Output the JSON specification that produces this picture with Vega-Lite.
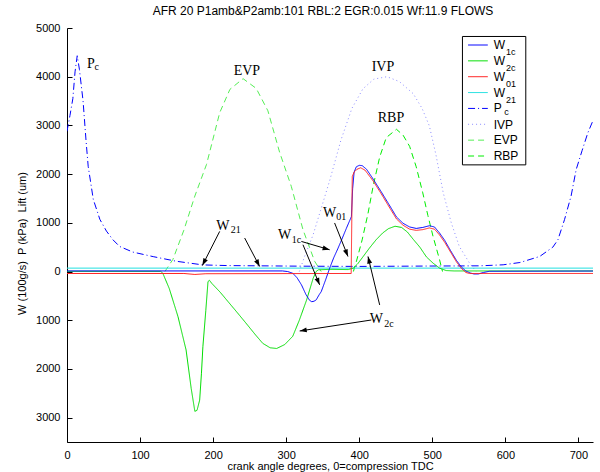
{
"$schema": "https://vega.github.io/schema/vega-lite/v6.json",
"width": 526, "height": 414,
"autosize": {"type": "none"},
"padding": {"left": 67, "top": 28, "right": 7, "bottom": 30},
"background": "white",
"title": {"text": "AFR 20 P1amb&P2amb:101 RBL:2 EGR:0.015 Wf:11.9 FLOWS", "font": "Liberation Sans", "fontSize": 12, "fontWeight": "normal", "color": "black", "anchor": "middle", "offset": 4, "dx": -7},
"config": {
  "view": {"stroke": null},
  "axis": {"domainColor": "black", "tickColor": "black", "labelColor": "black", "titleColor": "black", "labelFont": "Liberation Sans", "titleFont": "Liberation Sans", "labelFontSize": 11, "titleFontSize": 11, "titleFontWeight": "normal", "grid": false, "tickSize": -5, "domainWidth": 1, "tickWidth": 1, "labelFlush": false, "labelOverlap": false}
},
"datasets": {
"curves": [
{"s":"IVP","x":318,"y":0},{"s":"IVP","x":325,"y":300},{"s":"IVP","x":337,"y":760},{"s":"IVP","x":347,"y":1250},{"s":"IVP","x":360,"y":1890},{"s":"IVP","x":375,"y":2700},{"s":"IVP","x":390,"y":3350},{"s":"IVP","x":405,"y":3750},{"s":"IVP","x":420,"y":3950},{"s":"IVP","x":438,"y":4000},{"s":"IVP","x":455,"y":3900},{"s":"IVP","x":474,"y":3650},{"s":"IVP","x":486,"y":3350},{"s":"IVP","x":496,"y":2990},{"s":"IVP","x":505,"y":2400},{"s":"IVP","x":515,"y":1615},{"s":"IVP","x":526,"y":1000},{"s":"IVP","x":537,"y":515},{"s":"IVP","x":551,"y":173},{"s":"IVP","x":560,"y":0},
{"s":"EVP","x":134,"y":0},{"s":"EVP","x":145,"y":250},{"s":"EVP","x":160,"y":850},{"s":"EVP","x":175,"y":1550},{"s":"EVP","x":191,"y":2200},{"s":"EVP","x":209,"y":3260},{"s":"EVP","x":223,"y":3740},{"s":"EVP","x":241,"y":3960},{"s":"EVP","x":259,"y":3760},{"s":"EVP","x":275,"y":3300},{"s":"EVP","x":291,"y":2450},{"s":"EVP","x":307,"y":1750},{"s":"EVP","x":323,"y":860},{"s":"EVP","x":339,"y":210},{"s":"EVP","x":348,"y":0},
{"s":"RBP","x":392,"y":0},{"s":"RBP","x":396,"y":200},{"s":"RBP","x":404,"y":650},{"s":"RBP","x":412,"y":1190},{"s":"RBP","x":419,"y":1750},{"s":"RBP","x":428,"y":2350},{"s":"RBP","x":437,"y":2750},{"s":"RBP","x":451,"y":2920},{"s":"RBP","x":460,"y":2800},{"s":"RBP","x":469,"y":2570},{"s":"RBP","x":478,"y":2150},{"s":"RBP","x":487,"y":1615},{"s":"RBP","x":494,"y":1150},{"s":"RBP","x":501,"y":725},{"s":"RBP","x":510,"y":240},{"s":"RBP","x":514,"y":0},
{"s":"Pc","x":0,"y":2880},{"s":"Pc","x":4,"y":3200},{"s":"Pc","x":8,"y":3550},{"s":"Pc","x":11,"y":4100},{"s":"Pc","x":14,"y":4430},{"s":"Pc","x":17,"y":4150},{"s":"Pc","x":22,"y":3500},{"s":"Pc","x":26,"y":2700},{"s":"Pc","x":29,"y":2160},{"s":"Pc","x":36,"y":1480},{"s":"Pc","x":45,"y":1070},{"s":"Pc","x":54,"y":830},{"s":"Pc","x":63,"y":650},{"s":"Pc","x":72,"y":515},{"s":"Pc","x":90,"y":400},{"s":"Pc","x":118,"y":306},{"s":"Pc","x":150,"y":210},{"s":"Pc","x":186,"y":136},{"s":"Pc","x":220,"y":122},{"s":"Pc","x":264,"y":117},{"s":"Pc","x":320,"y":110},{"s":"Pc","x":400,"y":105},{"s":"Pc","x":487,"y":112},{"s":"Pc","x":565,"y":117},{"s":"Pc","x":597,"y":138},{"s":"Pc","x":620,"y":185},{"s":"Pc","x":647,"y":309},{"s":"Pc","x":665,"y":500},{"s":"Pc","x":672,"y":653},{"s":"Pc","x":681,"y":1065},{"s":"Pc","x":690,"y":1550},{"s":"Pc","x":697,"y":2095},{"s":"Pc","x":705,"y":2480},{"s":"Pc","x":713,"y":2850},{"s":"Pc","x":720,"y":3100},
{"s":"W21","x":0,"y":70},{"s":"W21","x":360,"y":70},{"s":"W21","x":720,"y":70},
{"s":"W2c","x":0,"y":5},{"s":"W2c","x":128,"y":5},{"s":"W2c","x":131,"y":-30},{"s":"W2c","x":140,"y":-350},{"s":"W2c","x":152,"y":-930},{"s":"W2c","x":163,"y":-1610},{"s":"W2c","x":170,"y":-2400},{"s":"W2c","x":175,"y":-2870},{"s":"W2c","x":178,"y":-2850},{"s":"W2c","x":181.6,"y":-2640},{"s":"W2c","x":184,"y":-2100},{"s":"W2c","x":186,"y":-1545},{"s":"W2c","x":190,"y":-800},{"s":"W2c","x":193,"y":-206},{"s":"W2c","x":195,"y":-180},{"s":"W2c","x":198,"y":-240},{"s":"W2c","x":210,"y":-430},{"s":"W2c","x":220,"y":-610},{"s":"W2c","x":232,"y":-824},{"s":"W2c","x":245,"y":-1060},{"s":"W2c","x":258,"y":-1300},{"s":"W2c","x":268,"y":-1475},{"s":"W2c","x":278,"y":-1565},{"s":"W2c","x":287,"y":-1580},{"s":"W2c","x":298,"y":-1500},{"s":"W2c","x":309,"y":-1330},{"s":"W2c","x":318,"y":-1000},{"s":"W2c","x":328,"y":-583},{"s":"W2c","x":337,"y":-136},{"s":"W2c","x":341,"y":0},{"s":"W2c","x":344,"y":35},{"s":"W2c","x":360,"y":45},{"s":"W2c","x":385,"y":40},{"s":"W2c","x":392,"y":70},{"s":"W2c","x":398,"y":160},{"s":"W2c","x":405,"y":300},{"s":"W2c","x":414,"y":482},{"s":"W2c","x":423,"y":650},{"s":"W2c","x":432,"y":790},{"s":"W2c","x":440,"y":880},{"s":"W2c","x":449,"y":930},{"s":"W2c","x":458,"y":905},{"s":"W2c","x":466,"y":810},{"s":"W2c","x":474,"y":660},{"s":"W2c","x":483,"y":500},{"s":"W2c","x":492,"y":300},{"s":"W2c","x":501,"y":173},{"s":"W2c","x":510,"y":70},{"s":"W2c","x":519,"y":20},{"s":"W2c","x":530,"y":12},{"s":"W2c","x":720,"y":12},
{"s":"W1c","x":0,"y":12},{"s":"W1c","x":295,"y":12},{"s":"W1c","x":302,"y":0},{"s":"W1c","x":309,"y":-35},{"s":"W1c","x":315,"y":-130},{"s":"W1c","x":321,"y":-275},{"s":"W1c","x":327,"y":-470},{"s":"W1c","x":332,"y":-590},{"s":"W1c","x":335,"y":-620},{"s":"W1c","x":338,"y":-610},{"s":"W1c","x":341,"y":-585},{"s":"W1c","x":345,"y":-480},{"s":"W1c","x":348,"y":-413},{"s":"W1c","x":354,"y":-170},{"s":"W1c","x":359.5,"y":68},{"s":"W1c","x":365,"y":280},{"s":"W1c","x":371,"y":478},{"s":"W1c","x":377,"y":690},{"s":"W1c","x":382.5,"y":890},{"s":"W1c","x":389.3,"y":1128},{"s":"W1c","x":391,"y":1700},{"s":"W1c","x":393,"y":2040},{"s":"W1c","x":396,"y":2150},{"s":"W1c","x":400,"y":2180},{"s":"W1c","x":404,"y":2175},{"s":"W1c","x":410,"y":2100},{"s":"W1c","x":419,"y":1900},{"s":"W1c","x":430,"y":1640},{"s":"W1c","x":442,"y":1345},{"s":"W1c","x":451,"y":1120},{"s":"W1c","x":460,"y":990},{"s":"W1c","x":469,"y":915},{"s":"W1c","x":478,"y":885},{"s":"W1c","x":487,"y":905},{"s":"W1c","x":496,"y":940},{"s":"W1c","x":503,"y":915},{"s":"W1c","x":510,"y":790},{"s":"W1c","x":517,"y":640},{"s":"W1c","x":525,"y":430},{"s":"W1c","x":533,"y":230},{"s":"W1c","x":540,"y":90},{"s":"W1c","x":546,"y":10},{"s":"W1c","x":552,"y":-30},{"s":"W1c","x":557,"y":-50},{"s":"W1c","x":563,"y":-50},{"s":"W1c","x":570,"y":-20},{"s":"W1c","x":578,"y":5},{"s":"W1c","x":720,"y":10},
{"s":"W01","x":0,"y":-40},{"s":"W01","x":160,"y":-40},{"s":"W01","x":175,"y":-60},{"s":"W01","x":190,"y":-45},{"s":"W01","x":389,"y":-40},{"s":"W01","x":390.5,"y":1950},{"s":"W01","x":393,"y":2040},{"s":"W01","x":397,"y":2100},{"s":"W01","x":402,"y":2130},{"s":"W01","x":408,"y":2080},{"s":"W01","x":419,"y":1860},{"s":"W01","x":430,"y":1600},{"s":"W01","x":442,"y":1300},{"s":"W01","x":451,"y":1080},{"s":"W01","x":460,"y":950},{"s":"W01","x":469,"y":870},{"s":"W01","x":478,"y":845},{"s":"W01","x":487,"y":860},{"s":"W01","x":496,"y":895},{"s":"W01","x":503,"y":870},{"s":"W01","x":510,"y":750},{"s":"W01","x":517,"y":600},{"s":"W01","x":525,"y":400},{"s":"W01","x":533,"y":200},{"s":"W01","x":540,"y":60},{"s":"W01","x":546,"y":-20},{"s":"W01","x":551,"y":-40},{"s":"W01","x":720,"y":-40}
],
"ann": [
{"t":"P","k":"main","x":27.4,"y":4177},{"t":"c","k":"sub","x":37.5,"y":4132},
{"t":"EVP","k":"main","x":228.2,"y":4039},
{"t":"IVP","k":"main","x":417,"y":4107},
{"t":"RBP","k":"main","x":425.4,"y":3080},
{"t":"W","k":"main","x":204.4,"y":855},{"t":"21","k":"sub","x":224.3,"y":787},
{"t":"W","k":"main","x":288.8,"y":660},{"t":"1c","k":"sub","x":307.5,"y":588},
{"t":"W","k":"main","x":350.5,"y":1128},{"t":"01","k":"sub","x":368.5,"y":1060},
{"t":"W","k":"main","x":414.4,"y":-1062},{"t":"2c","k":"sub","x":434.2,"y":-1132}
],
"arrows": [
{"id":"a1","x1":209,"y1":824,"x2":185.3,"y2":124},
{"id":"a2","x1":243.2,"y1":688,"x2":263.7,"y2":103},
{"id":"a3","x1":320.8,"y1":618,"x2":359.5,"y2":447},
{"id":"a4","x1":323,"y1":550,"x2":345.8,"y2":-274},
{"id":"a5","x1":366.3,"y1":997,"x2":384.6,"y2":309},
{"id":"a6","x1":428,"y1":-686,"x2":412,"y2":309},
{"id":"a7","x1":416.6,"y1":-995,"x2":318.5,"y2":-1221}
],
"leg": [
{"s":"W1c","m":"W","sub":"1c"},{"s":"W2c","m":"W","sub":"2c"},{"s":"W01","m":"W","sub":"01"},{"s":"W21","m":"W","sub":"21"},{"s":"Pc","m":"P","sub":"c"},{"s":"IVP","m":"IVP","sub":""},{"s":"EVP","m":"EVP","sub":""},{"s":"RBP","m":"RBP","sub":""}
]
},
"layer": [
{
"layer": [
{"data": {"name": "curves"}, "mark": {"type": "line", "clip": true},
 "encoding": {
  "x": {"field": "x", "type": "quantitative", "scale": {"domain": [0, 720], "nice": false, "zero": false},
        "axis": {"values": [0,100,200,300,400,500,600,700], "title": "crank angle degrees, 0=compression TDC", "labelPadding": 12, "titlePadding": 0}},
  "y": {"field": "y", "type": "quantitative", "scale": {"domain": [-3500, 5000], "nice": false, "zero": false},
        "axis": {"values": [-3000,-2000,-1000,0,1000,2000,3000,4000,5000], "labelExpr": "format(abs(datum.value), 'd')", "title": "W (100g/s)\u00a0 P (kPa)\u00a0 Lift (um)", "labelPadding": 12, "titlePadding": 8, "titleY": 215}},
  "color": {"field": "s", "type": "nominal", "legend": null, "scale": {"domain": ["W1c","W2c","W01","W21","Pc","IVP","EVP","RBP"], "range": ["#0000ff","#00dd00","#ff2020","#22e0e0","#0000ff","#8c8cff","#55ee55","#00ee00"]}},
  "strokeDash": {"field": "s", "type": "nominal", "legend": null, "scale": {"domain": ["W1c","W2c","W01","W21","Pc","IVP","EVP","RBP"], "range": [[1,0],[1,0],[1,0],[1,0],[7,3,1,3],[1,3],[6,4],[6,4]]}},
  "strokeWidth": {"field": "s", "type": "nominal", "legend": null, "scale": {"domain": ["W1c","W2c","W01","W21","Pc","IVP","EVP","RBP"], "range": [1,1,1.3,1,1,1,1,1]}}
 }},
{"data": {"values": [{}]}, "mark": {"type": "rect", "fill": "white", "stroke": "black", "strokeWidth": 1},
 "encoding": {"x": {"datum": 541.3}, "x2": {"datum": 628}, "y": {"datum": 4826}, "y2": {"datum": 2190}}},
{"data": {"name": "arrows"}, "mark": {"type": "rule", "color": "black", "strokeWidth": 1},
 "encoding": {"x": {"field": "x1", "type": "quantitative"}, "y": {"field": "y1", "type": "quantitative"}, "x2": {"field": "x2"}, "y2": {"field": "y2"}}},
{"data": {"name": "arrows"}, "mark": {"type": "point", "filled": true, "color": "black", "opacity": 1, "size": 200, "shape": "M0,0L-0.35,1L0.35,1Z"},
 "encoding": {"x": {"field": "x2", "type": "quantitative"}, "y": {"field": "y2", "type": "quantitative"},
  "angle": {"field": "id", "type": "nominal", "legend": null, "scale": {"type": "ordinal", "domain": ["a1","a2","a3","a4","a5","a6","a7"], "range": [207,152,106,157,158,346,261]}}}},
{"data": {"name": "ann"}, "transform": [{"filter": "datum.k == 'main'"}], "mark": {"type": "text", "font": "Liberation Serif", "fontSize": 14, "align": "left", "baseline": "alphabetic", "color": "black"},
 "encoding": {"x": {"field": "x", "type": "quantitative"}, "y": {"field": "y", "type": "quantitative"}, "text": {"field": "t"}}},
{"data": {"name": "ann"}, "transform": [{"filter": "datum.k == 'sub'"}], "mark": {"type": "text", "font": "Liberation Serif", "fontSize": 10, "align": "left", "baseline": "alphabetic", "color": "black"},
 "encoding": {"x": {"field": "x", "type": "quantitative"}, "y": {"field": "y", "type": "quantitative"}, "text": {"field": "t"}}}
]
},
{
"data": {"name": "leg"},
"layer": [
{"mark": {"type": "rule"},
 "encoding": {"x": {"datum": 549}, "x2": {"datum": 576},
  "y": {"field": "s", "type": "nominal", "sort": null, "scale": {"type": "point", "domain": ["W1c","W2c","W01","W21","Pc","IVP","EVP","RBP"], "range": [17, 128], "padding": 0}, "axis": null},
  "color": {"field": "s", "type": "nominal", "legend": null},
  "strokeDash": {"field": "s", "type": "nominal", "legend": null},
  "strokeWidth": {"field": "s", "type": "nominal", "legend": null}}},
{"transform": [{"filter": "datum.s != 'IVP'"}], "mark": {"type": "text", "font": "Liberation Sans", "fontSize": 12, "align": "left", "baseline": "middle", "color": "black"},
 "encoding": {"x": {"datum": 584}, "y": {"field": "s", "type": "nominal"}, "text": {"field": "m"}}},
{"transform": [{"filter": "datum.s == 'IVP'"}], "mark": {"type": "text", "font": "Liberation Sans", "fontSize": 12, "align": "left", "baseline": "middle", "dy": 1, "color": "black"},
 "encoding": {"x": {"datum": 584}, "y": {"field": "s", "type": "nominal"}, "text": {"field": "m"}}},
{"transform": [{"filter": "datum.m == 'W'"}], "mark": {"type": "text", "font": "Liberation Sans", "fontSize": 9, "align": "left", "baseline": "middle", "dy": 7, "color": "black"},
 "encoding": {"x": {"datum": 601}, "y": {"field": "s", "type": "nominal"}, "text": {"field": "sub"}}},
{"transform": [{"filter": "datum.s == 'Pc'"}], "mark": {"type": "text", "font": "Liberation Sans", "fontSize": 9, "align": "left", "baseline": "middle", "dy": 4, "color": "black"},
 "encoding": {"x": {"datum": 598.5}, "y": {"field": "s", "type": "nominal"}, "text": {"field": "sub"}}}
]
}
],
"resolve": {"scale": {"y": "independent"}}
}
